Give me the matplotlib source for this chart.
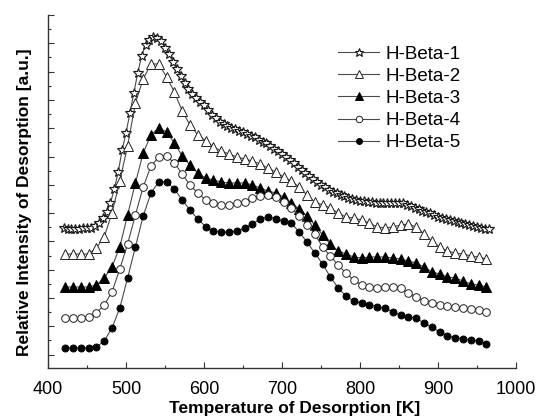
import matplotlib.pyplot as plt
import numpy as np
from matplotlib.ticker import MultipleLocator, FixedLocator

plt.rcParams['font.family'] = ['Liberation Sans', 'DejaVu Sans']

# temperatures [K]
temp = list(range(422, 963, 10))
temp_star = list(range(420, 966, 5))

labels = ['H-Beta-1', 'H-Beta-2', 'H-Beta-3', 'H-Beta-4', 'H-Beta-5']

# relative intensity (a.u.)
beta1 = [140, 139.5, 139.5, 139.5, 139.5, 139.7, 140, 140.5, 142.5, 145.5,
         150, 156, 165, 179, 196, 218, 235, 255, 275, 295,
         312, 323, 328, 331, 330.5, 327, 320.5, 314, 306.3, 299,
         292, 285, 279.5, 274.5, 270, 266.5, 263, 258, 253.5, 250,
         246.5, 244.5, 242.5, 240.5, 239, 237.5, 236, 234, 232.5, 231,
         228.5, 226.5, 224.7, 222, 219.5, 217, 214, 211, 208, 205,
         201.5, 198.5, 195.5, 192, 189, 186, 183.5, 181, 178.5, 176.5,
         175, 173.5, 172, 170.5, 169.5, 168.5, 167.5, 166.7, 166.3, 166,
         165.5, 165, 165, 165, 165, 165, 165.5, 165, 163.5, 162,
         160.5, 159, 157.5, 156.3, 155, 153, 151.5, 150, 149, 148,
         147, 146, 145, 144, 143, 142, 141.3, 140.5, 139.5, 139]
beta2 = [114, 114, 114, 114, 120, 131, 155, 187, 222, 265,
         289, 304, 304, 291, 276, 257, 243, 233, 227.5, 221,
         217, 214, 211, 209, 207, 204, 200, 196, 191, 187,
         181, 173, 166, 163, 160, 155, 151, 150, 148, 145,
         141, 140, 141, 143, 144, 141, 134, 127, 121, 117,
         115, 114, 112, 111, 109]
beta3 = [81, 81, 81, 81, 83, 90, 101, 121, 153, 185,
         215, 233, 240, 236, 225, 212, 203, 195, 190, 188,
         186, 185, 185, 185, 183, 180, 177, 175, 171, 165,
         159, 152, 143, 133, 124, 117, 114, 111, 110, 111,
         111, 111, 110, 109, 107, 105, 101, 96, 94, 91,
         90, 87, 84, 83, 81]
beta4 = [50, 50, 50, 51, 55, 63, 76, 99, 124, 153,
         181, 202, 211, 212, 205, 194, 183, 175, 168, 165,
         163, 163, 165, 166, 170, 172, 173, 171, 166, 160,
         152, 143, 134, 121, 112, 103, 95, 88, 83, 81,
         80, 81, 81, 80, 75, 71, 67, 65, 63, 62,
         61, 60, 59, 58, 56]
beta5 = [20, 20, 20, 20, 21, 27, 40, 60, 90, 121,
         152, 175, 186, 186, 179, 168, 158, 149, 141.5, 137,
         136, 136, 137, 140, 144, 149, 151, 149, 147, 145,
         136, 126, 115, 104, 91, 80, 72, 67, 65, 63.5,
         61, 60, 56, 53, 51, 50, 45, 41, 36, 32,
         30.5, 29.5, 28, 27, 24]

fig = plt.figure(figsize=(5.36, 4.19), dpi=100)
ax = fig.add_axes([0.0896, 0.1217, 0.8731, 0.8425])

line_col = '#4a4a4a'
ax.plot(temp_star, beta1, color=line_col, lw=0.8, marker='*', ms=7.5,
        mfc='white', mec='#1a1a1a', mew=0.85, label=labels[0])
ax.plot(temp, beta2, color=line_col, lw=0.8, marker='^', ms=6.5,
        mfc='white', mec='#222222', mew=0.7, label=labels[1])
ax.plot(temp, beta3, color=line_col, lw=0.8, marker='^', ms=6.5,
        mfc='black', mec='black', mew=0.7, label=labels[2])
ax.plot(temp, beta4, color=line_col, lw=0.8, marker='o', ms=5.5,
        mfc='white', mec='#222222', mew=0.7, label=labels[3])
ax.plot(temp, beta5, color=line_col, lw=0.8, marker='o', ms=5,
        mfc='black', mec='black', mew=0.7, label=labels[4])

ax.set_xlim(400, 1000)
ax.set_ylim(0, 353)
ax.xaxis.set_major_locator(MultipleLocator(100))
ax.xaxis.set_minor_locator(MultipleLocator(50))
ax.yaxis.set_major_locator(FixedLocator(np.arange(13.4, 354, 28.3)))
ax.yaxis.set_minor_locator(FixedLocator(np.arange(27.55, 354, 28.3)))
ax.set_yticklabels([])

for side in ['top', 'right']:
    ax.spines[side].set_visible(False)
for side in ['left', 'bottom']:
    ax.spines[side].set_color('#333333')
    ax.spines[side].set_linewidth(1)

ax.tick_params(axis='both', which='major', direction='in', length=4,
               width=0.8, color='#333333', labelsize=13, pad=9)
ax.tick_params(axis='both', which='minor', direction='in', length=2.5,
               width=0.8, color='#333333')

ax.set_xlabel('Temperature of Desorption [K]', fontsize=12.5,
              fontweight='bold', labelpad=2.5)
ax.xaxis.label.set_x(0.526)
ax.set_ylabel('Relative Intensity of Desorption [a.u.]', fontsize=12.5,
              fontweight='bold')
ax.yaxis.set_label_coords(-0.034, 0.47)

ax.legend(loc='upper left', bbox_to_anchor=(0.631, 0.891),
          bbox_transform=fig.transFigure, frameon=False, fontsize=13.5,
          handlelength=2.2, handletextpad=0.3, labelspacing=0.265,
          borderpad=0, borderaxespad=0, markerscale=0.85)

fig.savefig('out.png', dpi=100)
